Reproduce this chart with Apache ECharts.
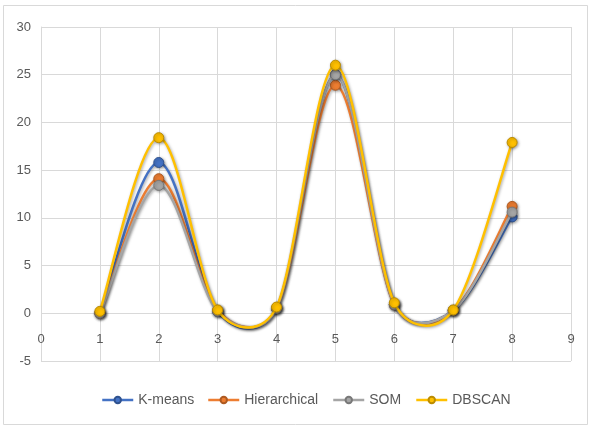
<!DOCTYPE html>
<html><head><meta charset="utf-8">
<script src="https://cdn.jsdelivr.net/npm/echarts@6/dist/echarts.min.js"></script>
<style>html,body{margin:0;padding:0;background:#fff}#c{width:590px;height:427px}</style>
</head><body><div id="c"></div>
<script>
const xValues = [1, 2, 3, 4, 5, 6, 7, 8];
const kmeans = [0, 15.8, 0.2, 0.5, 25.0, 0.9, 0.3, 10.1];
const hierarchical = [0, 14.1, 0.3, 0.5, 23.9, 0.9, 0.3, 11.2];
const som = [0, 13.4, 0.2, 0.5, 25.0, 0.9, 0.3, 10.6];
const dbscan = [0.2, 18.4, 0.35, 0.65, 26.0, 1.1, 0.35, 17.9];
const seriesNames = ['K-means', 'Hierarchical', 'SOM', 'DBSCAN'];
const colors = ['#4472C4', '#ED7D31', '#A5A5A5', '#FFC000'];
const borders = ['#2F528F', '#AE5A21', '#787878', '#BC8C00'];
const allData = [kmeans, hierarchical, som, dbscan];
const legendLeft = [96, 202, 327, 410];

const font = "'Liberation Sans', Arial, sans-serif";
const chart = echarts.init(document.getElementById('c'), null, {renderer: 'canvas'});

// Excel-like smoothing: Catmull-Rom control arms (1/6 of neighbour chord), clamped to half the segment
function arm(a, b, segLen) {
  let vx = (b[0] - a[0]) / 6, vy = (b[1] - a[1]) / 6;
  const len = Math.hypot(vx, vy);
  const lim = segLen / 2;
  if (len > lim && len > 0) { vx *= lim / len; vy *= lim / len; }
  return [vx, vy];
}
function makeRender(idx) {
  const d = allData[idx];
  return function (params, api) {
    const i = params.dataIndex;
    const n = xValues.length;
    if (i >= n - 1) return null;
    const P = xValues.map((x, j) => api.coord([x, d[j]]));
    const p0 = P[Math.max(i - 1, 0)], p1 = P[i], p2 = P[i + 1], p3 = P[Math.min(i + 2, n - 1)];
    const seg = Math.hypot(p2[0] - p1[0], p2[1] - p1[1]);
    const a1 = arm(p0, p2, seg), a2 = arm(p1, p3, seg);
    return {
      type: 'bezierCurve',
      shape: {x1: p1[0], y1: p1[1], x2: p2[0], y2: p2[1],
              cpx1: p1[0] + a1[0], cpy1: p1[1] + a1[1],
              cpx2: p2[0] - a2[0], cpy2: p2[1] - a2[1]},
      style: {fill: null, stroke: colors[idx], lineWidth: 2.5,
              shadowColor: 'rgba(0,0,0,0.35)', shadowBlur: 3, shadowOffsetX: 1, shadowOffsetY: 1}
    };
  };
}

const series = [];
allData.forEach((d, i) => {
  series.push({
    name: seriesNames[i] + ' curve',
    type: 'custom',
    renderItem: makeRender(i),
    data: xValues.map((x, j) => [x, d[j]]),
    encode: {x: 0, y: 1},
    silent: true,
    z: 2 + 2 * i
  });
  series.push({
    name: seriesNames[i],
    type: 'line',
    data: xValues.map((x, j) => [x, d[j]]),
    symbol: 'circle',
    symbolSize: 10,
    lineStyle: {color: colors[i], width: 2.5, opacity: 0},
    itemStyle: {color: colors[i], borderColor: borders[i], borderWidth: 1,
                shadowColor: 'rgba(0,0,0,0.35)', shadowBlur: 3, shadowOffsetX: 1, shadowOffsetY: 1},
    z: 3 + 2 * i
  });
});

chart.setOption({
  animation: false,
  backgroundColor: '#fff',
  graphic: [{
    type: 'rect', shape: {x: 3.5, y: 5.5, width: 584, height: 419},
    style: {fill: 'none', stroke: '#d9d9d9', lineWidth: 1}, z: -1
  }],
  grid: {left: 41, right: 19, top: 27, bottom: 66},
  legend: seriesNames.map((name, i) => ({
    left: legendLeft[i], top: 388, itemWidth: 31, itemHeight: 8,
    lineStyle: {opacity: 1, width: 2.5},
    textStyle: {fontFamily: font, fontSize: 14, color: '#595959'},
    data: [name]
  })),
  xAxis: {
    type: 'value', min: 0, max: 9, interval: 1,
    axisLine: {show: false},
    axisTick: {show: false},
    splitLine: {show: true, lineStyle: {color: '#d9d9d9', width: 1}},
    axisLabel: {fontFamily: font, fontSize: 13, color: '#595959', margin: -28}
  },
  yAxis: {
    type: 'value', min: -5, max: 30, interval: 5,
    axisLine: {show: true, onZero: false, lineStyle: {color: '#d9d9d9'}},
    axisTick: {show: false},
    splitLine: {show: true, lineStyle: {color: '#d9d9d9', width: 1}},
    axisLabel: {fontFamily: font, fontSize: 13, color: '#595959', margin: 10}
  },
  series: series
});
</script>
</body></html>
